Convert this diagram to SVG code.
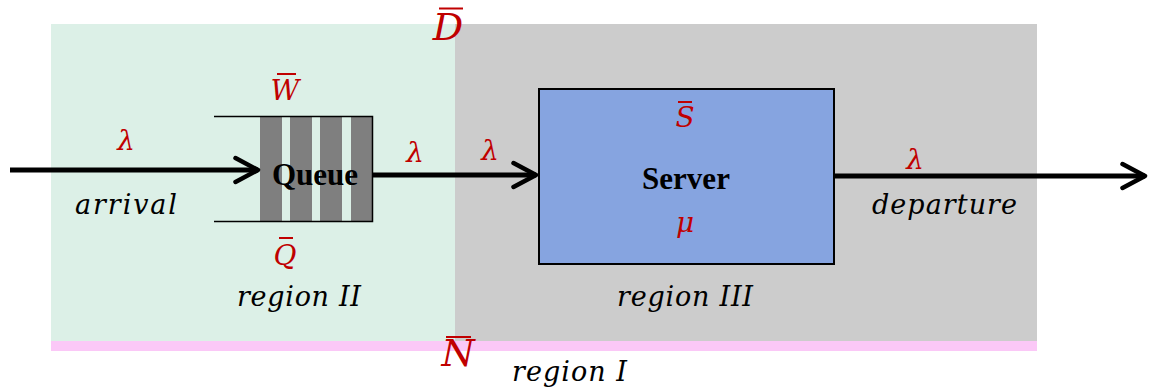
<svg xmlns="http://www.w3.org/2000/svg" width="1149" height="388" viewBox="0 0 1149 388">
<defs>
<marker id="chev" viewBox="0 0 10 10" refX="9" refY="5" markerWidth="6" markerHeight="6" orient="auto" markerUnits="strokeWidth">
<path d="M1.5,1 L9,5 L1.5,9" fill="none" stroke="#000" stroke-width="1.5" stroke-linecap="round" stroke-linejoin="round"/>
</marker>
<style>
.red{fill:#c00000;font-family:"DejaVu Serif",serif;font-style:italic;font-size:28px;text-anchor:middle}
.big{font-size:38px}
.it{fill:#000;font-family:"DejaVu Serif",serif;font-style:italic;font-size:27px}
.bar{stroke:#c00000;stroke-width:2}
.conn{stroke:#000;stroke-width:5;fill:none}
.thin{stroke:#000;stroke-width:1.5;fill:none}
.qbar{fill:#7f7f7f}
.bold{font-family:"Liberation Serif",serif;font-weight:bold;font-size:31px;text-anchor:middle;fill:#000}
</style>
</defs>
<rect width="1149" height="388" fill="#fff"/>
<g id="region-II-bg"><rect x="51" y="24" width="404" height="317" fill="#dcf0e7"/></g>
<g id="region-III-bg"><rect x="455" y="24" width="582" height="317" fill="#cccccc"/></g>
<g id="region-I-bg"><rect x="51" y="341" width="986" height="10" fill="#fbc8f7"/></g>

<g id="queue">
<rect class="qbar" x="260" y="116" width="22" height="106"/>
<rect class="qbar" x="290" y="116" width="22" height="106"/>
<rect class="qbar" x="320" y="116" width="22" height="106"/>
<rect class="qbar" x="351" y="116" width="21" height="106"/>
<path class="thin" d="M214,116.5 H372.5 V221.5 H214"/>
<text class="bold" x="315" y="185">Queue</text>
</g>

<g id="server">
<rect x="539" y="89" width="295" height="175" fill="#86a4e0" stroke="#000" stroke-width="2"/>
<text class="bold" x="686" y="189">Server</text>
</g>

<g id="connectors">
<line class="conn" x1="10" y1="170" x2="258" y2="170" marker-end="url(#chev)"/>
<line class="conn" x1="373" y1="175" x2="536" y2="175" marker-end="url(#chev)"/>
<line class="conn" x1="834" y1="176" x2="1145" y2="176" marker-end="url(#chev)"/>
</g>

<g id="labels">
<text class="red" x="126" y="150">λ</text>
<text class="red" x="415" y="162">λ</text>
<text class="red" x="490" y="160">λ</text>
<text class="red" x="915" y="169">λ</text>
<text class="red" x="285" y="100">W</text><line class="bar" x1="277" y1="74" x2="296" y2="74"/>
<text class="red" x="285" y="265">Q</text><line class="bar" x1="279" y1="238" x2="293" y2="238"/>
<text class="red" x="685" y="127">S</text><line class="bar" x1="678" y1="102" x2="692" y2="102"/>
<text class="red" x="685" y="232">μ</text>
<text class="red big" x="448" y="40">D</text><line class="bar" x1="439" y1="8.5" x2="463" y2="8.5" stroke-width="2.5"/>
<text class="red big" x="458" y="366">N</text><line class="bar" x1="446" y1="337" x2="471" y2="337" stroke-width="2.5"/>
<text class="it" x="75" y="214" textLength="102" lengthAdjust="spacing">arrival</text>
<text class="it" x="872" y="214" textLength="145" lengthAdjust="spacing">departure</text>
<text class="it" x="237" y="306" textLength="124" lengthAdjust="spacing">region II</text>
<text class="it" x="617" y="306" textLength="136" lengthAdjust="spacing">region III</text>
<text class="it" x="512" y="381" textLength="115" lengthAdjust="spacing">region I</text>
</g>
</svg>
